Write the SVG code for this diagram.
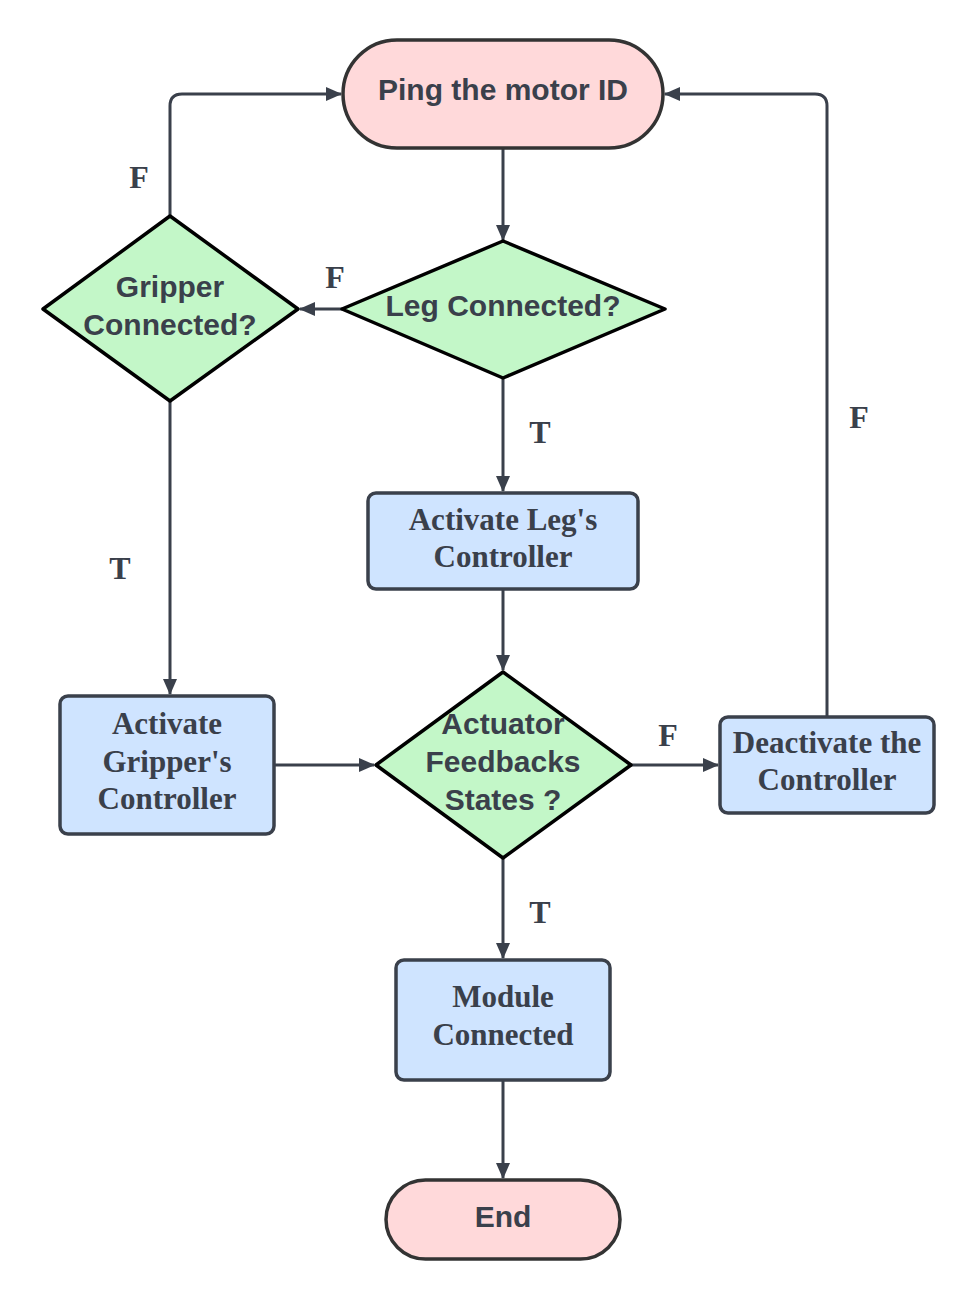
<svg xmlns="http://www.w3.org/2000/svg" width="974" height="1300" viewBox="0 0 974 1300">
<defs>
<marker id="ah" viewBox="0 0 16 14" refX="15" refY="7" markerWidth="16" markerHeight="14" markerUnits="userSpaceOnUse" orient="auto">
<path d="M0,0 L16,7 L0,14 Z" fill="#3a404b"/>
</marker>
<style>
.term{fill:#ffd9da;stroke:#333;stroke-width:3.5}
.dia{fill:#c3f7c8;stroke:#000;stroke-width:3.5;stroke-linejoin:round}
.box{fill:#cfe4ff;stroke:#3a404b;stroke-width:3.5}
.sans{font-family:"Liberation Sans",Arial,sans-serif;font-weight:bold;font-size:30px;fill:#3a404b;text-anchor:middle}
.serif{font-family:"Liberation Serif","Times New Roman",serif;font-weight:bold;font-size:31px;fill:#3a404b;text-anchor:middle}
.lbl{font-family:"Liberation Serif","Times New Roman",serif;font-weight:bold;font-size:32px;fill:#3a404b;text-anchor:middle}
.con{fill:none;stroke:#3a404b;stroke-width:3;marker-end:url(#ah)}
</style>
</defs>
<rect width="974" height="1300" fill="#fff"/>
<g id="connectors">
<path class="con" d="M503,148 L503,240"/>
<path class="con" d="M342,309 L300,309"/>
<path class="con" d="M170,216 L170,106 Q170,94 182,94 L341,94"/>
<path class="con" d="M503,378 L503,491"/>
<path class="con" d="M170,401 L170,694"/>
<path class="con" d="M503,589 L503,670"/>
<path class="con" d="M274,765 L374,765"/>
<path class="con" d="M631,765 L718,765"/>
<path class="con" d="M827,717 L827,106 Q827,94 815,94 L665,94"/>
<path class="con" d="M503,858 L503,958"/>
<path class="con" d="M503,1080 L503,1178"/>
<text class="lbl" x="335" y="288">F</text>
<text class="lbl" x="139" y="188">F</text>
<text class="lbl" x="540" y="443">T</text>
<text class="lbl" x="120" y="579">T</text>
<text class="lbl" x="668" y="746">F</text>
<text class="lbl" x="859" y="428">F</text>
<text class="lbl" x="540" y="923">T</text>
</g>
<g id="ping">
<rect class="term" x="343" y="40" width="320" height="108" rx="54"/>
<text class="sans" x="503" y="100">Ping the motor ID</text>
</g>
<g id="leg">
<path class="dia" d="M503,241 L665,309 L503,378 L342,309 Z"/>
<text class="sans" x="503" y="316">Leg Connected?</text>
</g>
<g id="gripper">
<path class="dia" d="M170,216 L298,309 L170,401 L43,309 Z"/>
<text class="sans" x="170" y="297">Gripper</text>
<text class="sans" x="170" y="335">Connected?</text>
</g>
<g id="actleg">
<rect class="box" x="368" y="493" width="270" height="96" rx="8"/>
<text class="serif" x="503" y="530">Activate Leg's</text>
<text class="serif" x="503" y="567">Controller</text>
</g>
<g id="actgrip">
<rect class="box" x="60" y="696" width="214" height="138" rx="8"/>
<text class="serif" x="167" y="734">Activate</text>
<text class="serif" x="167" y="772">Gripper's</text>
<text class="serif" x="167" y="809">Controller</text>
</g>
<g id="actuator">
<path class="dia" d="M503,672 L631,765 L503,858 L376,765 Z"/>
<text class="sans" x="503" y="734">Actuator</text>
<text class="sans" x="503" y="772">Feedbacks</text>
<text class="sans" x="503" y="810">States ?</text>
</g>
<g id="deact">
<rect class="box" x="720" y="717" width="214" height="96" rx="8"/>
<text class="serif" x="827" y="753">Deactivate the</text>
<text class="serif" x="827" y="790">Controller</text>
</g>
<g id="module">
<rect class="box" x="396" y="960" width="214" height="120" rx="8"/>
<text class="serif" x="503" y="1007">Module</text>
<text class="serif" x="503" y="1045">Connected</text>
</g>
<g id="end">
<rect class="term" x="386" y="1180" width="234" height="79" rx="39.5"/>
<text class="sans" x="503" y="1227">End</text>
</g>
</svg>
